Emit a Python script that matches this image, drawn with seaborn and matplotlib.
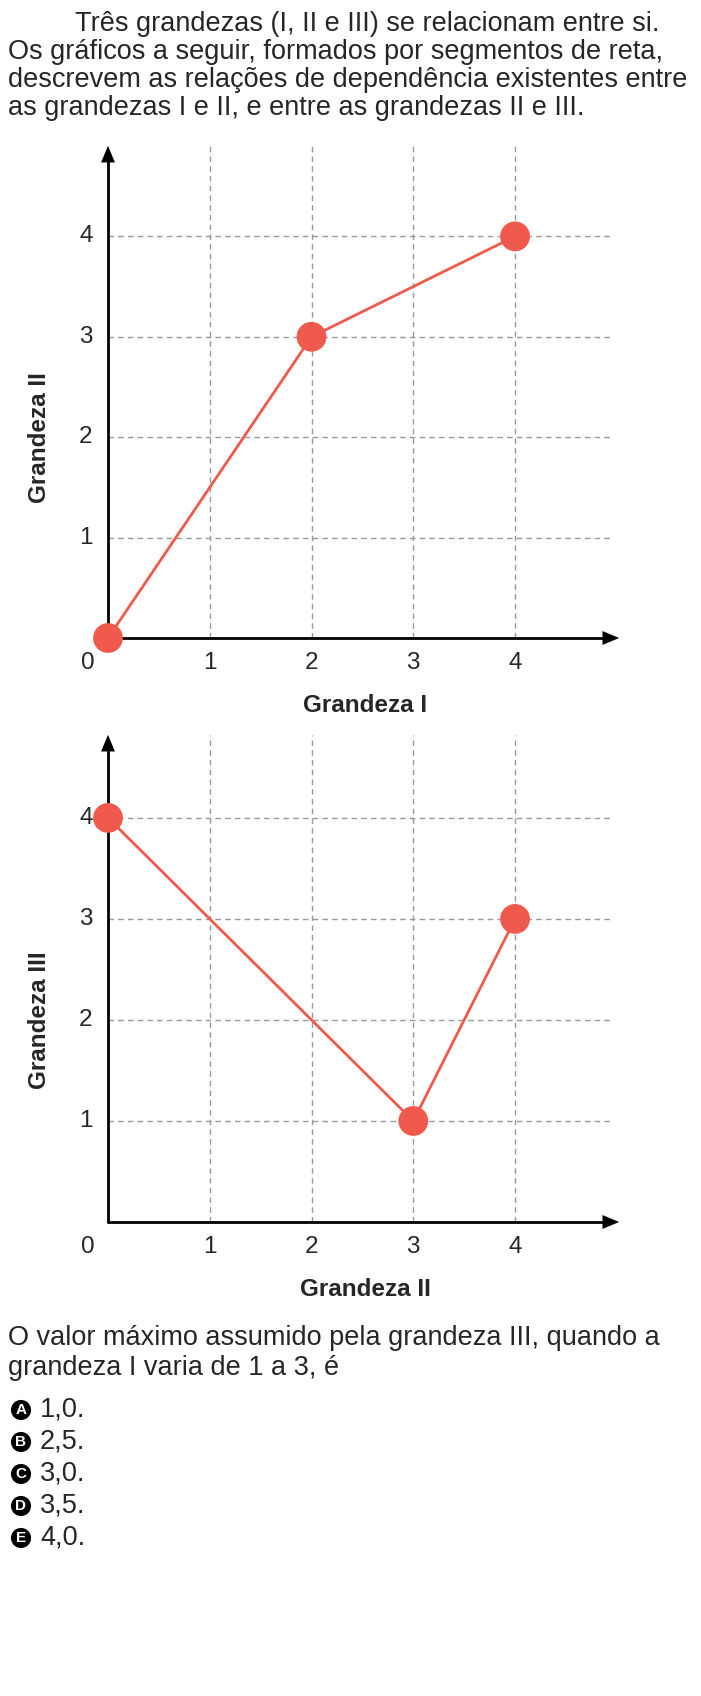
import numpy as np
import pandas as pd
import matplotlib
matplotlib.use("Agg")
import matplotlib.pyplot as plt
import seaborn as sns

sns.set_style("white")
plt.rcParams['font.family'] = ['Liberation Sans', 'DejaVu Sans']

# data
g1 = [0, 2, 4]
g2_top = [0, 3, 4]
g2 = [0, 3, 4]
g3 = [4, 1, 3]
ticks = [1, 2, 3, 4]
RED = '#ef5a4c'

intro = ["Três grandezas (I, II e III) se relacionam entre si.",
         "Os gráficos a seguir, formados por segmentos de reta,",
         "descrevem as relações de dependência existentes entre",
         "as grandezas I e II, e entre as grandezas II e III."]
question = ["O valor máximo assumido pela grandeza III, quando a",
            "grandeza I varia de 1 a 3, é"]
letters = ["A", "B", "C", "D", "E"]
options = ["1,0.", "2,5.", "3,0.", "3,5.", "4,0."]

W, H = 701, 1696
fig = plt.figure(figsize=(W / 100, H / 100), dpi=100)
FS = 19.5
TFS = 17.5


def px(x, y):
    return x / W, 1 - y / H


def panel(rect, xs, ys, xlab, ylab, ytop):
    ax = fig.add_axes(rect)
    xmax = 5.1
    ax.set_xlim(0, xmax)
    ax.set_ylim(0, ytop)
    for s in ax.spines.values():
        s.set_visible(False)
    ax.set_xticks([]); ax.set_yticks([])
    for t in ticks:
        ax.plot([t, t], [0, ytop - 0.05], color='#999999', ls=(0, (4, 3)), lw=1)
        ax.plot([0, 4.94], [t, t], color='#999999', ls=(0, (4, 3)), lw=1)
    ax.plot([0, 4.85], [0, 0], color='black', lw=2, clip_on=False)
    ax.plot([0, 0], [0, ytop - 0.15], color='black', lw=2, clip_on=False)
    ax.annotate('', xy=(5.05, 0), xytext=(4.75, 0), annotation_clip=False,
                arrowprops=dict(arrowstyle='-|>,head_width=0.5,head_length=1.2', color='black', lw=0))
    ax.annotate('', xy=(0, ytop - 0.02), xytext=(0, ytop - 0.3), annotation_clip=False,
                arrowprops=dict(arrowstyle='-|>,head_width=0.5,head_length=1.2', color='black', lw=0))
    df = pd.DataFrame({'x': xs, 'y': ys})
    sns.lineplot(data=df, x='x', y='y', ax=ax, color=RED, lw=2, clip_on=False, sort=False)
    sns.scatterplot(data=df, x='x', y='y', ax=ax, color=RED, s=460, edgecolor='none',
                    clip_on=False, zorder=5)
    ax.set_xlabel(''); ax.set_ylabel('')
    for t in ticks:
        ax.text(t, -0.25, str(t), ha='center', va='center', fontsize=TFS)
        ax.text(-0.15, t, str(t), ha='right', va='center', fontsize=TFS)
    ax.text(-0.2, -0.25, '0', ha='center', va='center', fontsize=TFS)
    ax.text(2.53, -0.67, xlab, ha='center', va='center', fontsize=TFS, fontweight='bold')
    ax.text(-0.67, 2.0, ylab, ha='center', va='center', fontsize=TFS, fontweight='bold', rotation=90)
    return ax


panel([108 / W, 1 - 638 / H, 519 / W, 497 / H], g1, g2_top, 'Grandeza I', 'Grandeza II', 4.95)
panel([108 / W, 1 - 1222 / H, 519 / W, 492 / H], g2, g3, 'Grandeza II', 'Grandeza III', 4.87)

for i, line in enumerate(intro):
    x = 75 if i == 0 else 8
    fig.text(*px(x, 24 + 28 * i), line, fontsize=FS, va='center', ha='left')
for i, line in enumerate(question):
    fig.text(*px(8, 1338 + 30 * i), line, fontsize=FS, va='center', ha='left')
for i, (l, o) in enumerate(zip(letters, options)):
    y = 1410 + 32 * i
    fig.text(*px(21, y), l, fontsize=11, fontweight='bold', color='white', ha='center', va='center',
             bbox=dict(boxstyle='circle,pad=0.2', fc='black', ec='none'))
    fig.text(*px(40, y), o, fontsize=FS, va='center', ha='left')

fig.savefig('out.png', dpi=100)
